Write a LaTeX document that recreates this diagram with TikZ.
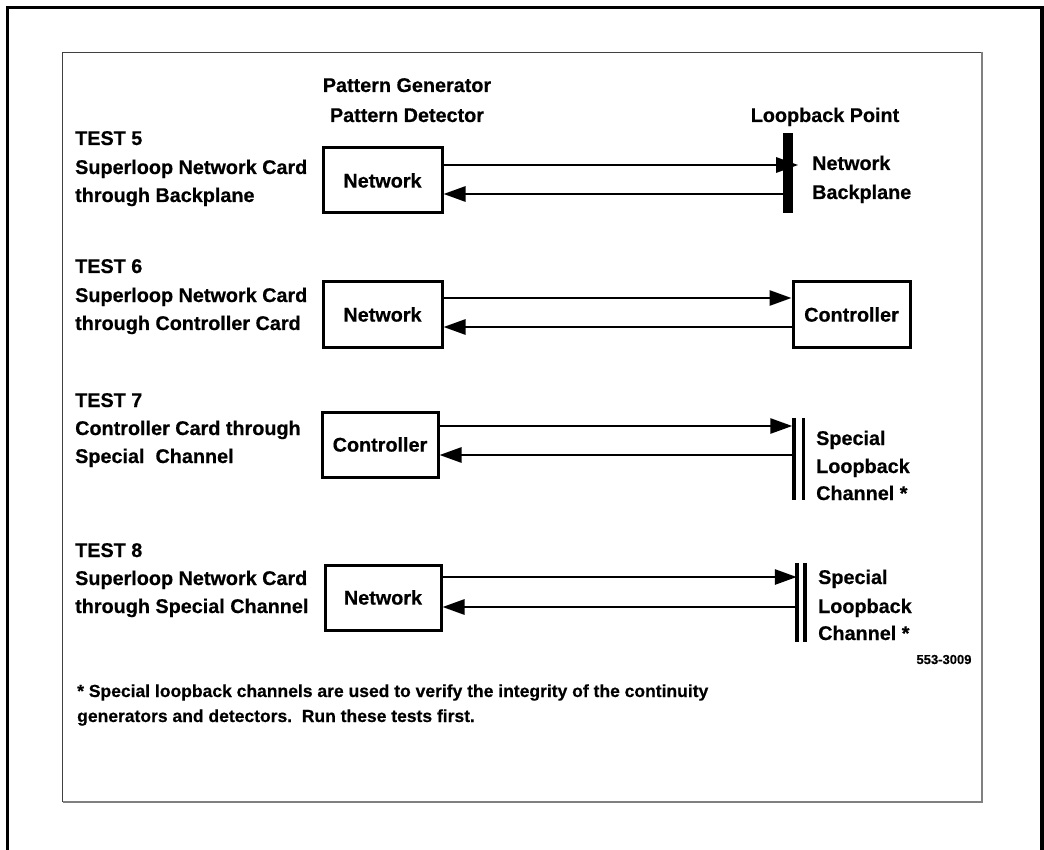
\documentclass[tikz,border=0pt]{standalone}
\usepackage{fontspec}
\setmainfont{Liberation Sans}[BoldFeatures={FakeBold=0.5}]
\usetikzlibrary{arrows.meta}
\begin{document}
\begin{tikzpicture}[x=1pt,y=-1pt,
  lbl/.style={anchor=base west, inner sep=0pt, font=\fontsize{19.8}{24}\selectfont\bfseries},
  lblc/.style={anchor=base, inner sep=0pt, font=\fontsize{19.8}{24}\selectfont\bfseries},
  box/.style={draw, line width=3pt, minimum width=119pt, minimum height=65pt, inner sep=0pt, fill=white,
              font=\fontsize{19.8}{24}\selectfont\bfseries},
  conn/.style={line width=2.8pt},
  arr/.style={conn, -{Triangle[length=22pt,width=15pt]}},
  foot/.style={anchor=base west, inner sep=0pt, font=\fontsize{17.5}{20}\selectfont\bfseries},
  tiny/.style={anchor=base, inner sep=0pt, font=\fontsize{13}{15}\selectfont\bfseries},
  barline/.style={line width=3.5pt}]
\useasboundingbox (0,0) rectangle (1044,850);
% outer frame
\draw[line width=3.5pt] (7.5,850) -- (7.5,7.5) -- (1042,7.5) -- (1042,850);
% inner frame
\draw[black!75, line width=1.2pt] (62.7,801.7) -- (62.7,52.5) -- (981.7,52.5);
\draw[black!50, line width=2pt] (981.7,52.5) -- (981.7,801.7) -- (62.7,801.7);

% headers
\node[lblc] (hpg) at (407,92) {Pattern Generator};
\node[lblc] (hpd) at (407,122) {Pattern Detector};
\node[lblc] (hlp) at (825,122) {Loopback Point};

% ---------- TEST 5
\node[lbl] (t5a) at (75,145) {TEST 5};
\node[lbl] (t5b) at (75,174) {Superloop Network Card};
\node[lbl] (t5c) at (75,202) {through Backplane};
\node[box] (n5) at (382.5,180.5) {Network};
\node[fill=black, minimum width=10pt, minimum height=80pt, inner sep=0pt] (bar5) at (788,173) {};
\node[lbl] (l5a) at (812,170) {Network};
\node[lbl] (l5b) at (812,199) {Backplane};
\coordinate (a5) at ([yshift=15.5pt]n5.east);
\coordinate (b5) at ([yshift=-13.5pt]n5.east);
\coordinate (a5e) at (a5 -| bar5.east);
\coordinate (b5e) at (b5 -| bar5.east);
\draw[arr] (a5) -- ([xshift=5pt]a5e);
\draw[arr] (b5e) -- (b5);

% ---------- TEST 6
\node[lbl] (t6a) at (75,273) {TEST 6};
\node[lbl] (t6b) at (75,302) {Superloop Network Card};
\node[lbl] (t6c) at (75,330) {through Controller Card};
\node[box] (n6) at (382.5,314.5) {Network};
\node[box, minimum width=117pt] (c6) at (851.5,314.5) {Controller};
\coordinate (a6) at ([yshift=16.5pt]n6.east);
\coordinate (b6) at ([yshift=-12.5pt]n6.east);
\draw[arr] (a6) -- (a6 -| c6.west);
\draw[arr] (b6 -| c6.west) -- (b6);

% ---------- TEST 7
\node[lbl] (t7a) at (75,407) {TEST 7};
\node[lbl] (t7b) at (75,435) {Controller Card through};
\node[lbl] (t7c) at (75,463) {Special\ \ Channel};
\node[box, minimum width=116pt] (c7) at (380,444.5) {Controller};
\node[minimum width=9.5pt, minimum height=82pt, inner sep=0pt] (bb7) at (798.75,459) {};
\draw[barline] (bb7.north west) -- (bb7.south west);
\draw[barline] (bb7.north east) -- (bb7.south east);
\node[lbl] (l7a) at (816,445) {Special};
\node[lbl] (l7b) at (816,473) {Loopback};
\node[lbl] (l7c) at (816,500) {Channel *};
\coordinate (a7) at ([yshift=18.5pt]c7.east);
\coordinate (b7) at ([yshift=-10.5pt]c7.east);
\coordinate (a7e) at (a7 -| bb7.west);
\coordinate (b7e) at (b7 -| bb7.west);
\draw[arr] (a7) -- ([xshift=-1.5pt]a7e);
\draw[arr] (b7e) -- (b7);

% ---------- TEST 8
\node[lbl] (t8a) at (75,557) {TEST 8};
\node[lbl] (t8b) at (75,585) {Superloop Network Card};
\node[lbl] (t8c) at (75,613) {through Special Channel};
\node[box, minimum width=116pt] (n8) at (383,597.5) {Network};
\node[minimum width=8pt, minimum height=79pt, inner sep=0pt] (bb8) at (801,602.5) {};
\draw[barline] (bb8.north west) -- (bb8.south west);
\draw[barline] (bb8.north east) -- (bb8.south east);
\node[lbl] (l8a) at (818,584) {Special};
\node[lbl] (l8b) at (818,613) {Loopback};
\node[lbl] (l8c) at (818,640) {Channel *};
\coordinate (a8) at ([yshift=20.5pt]n8.east);
\coordinate (b8) at ([yshift=-9.5pt]n8.east);
\coordinate (a8e) at (a8 -| bb8.west);
\coordinate (b8e) at (b8 -| bb8.west);
\draw[arr] (a8) -- (a8e);
\draw[arr] (b8e) -- (b8);

% ---------- footnote
\node[tiny] (code) at (944,664) {553-3009};
\node[foot] (f1) at (77,697) {* Special loopback channels are used to verify the integrity of the continuity};
\node[foot] (f2) at (77,722) {generators and detectors.\ \ Run these tests first.};
\end{tikzpicture}
\end{document}
